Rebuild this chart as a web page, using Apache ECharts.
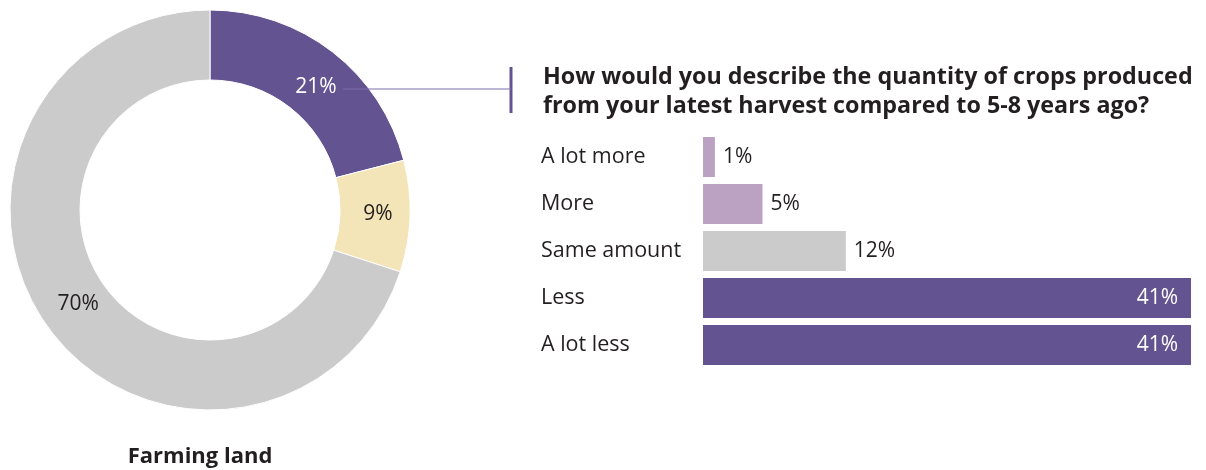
<!DOCTYPE html>
<html>
<head>
<meta charset="utf-8">
<script src="https://cdn.jsdelivr.net/npm/echarts@6/dist/echarts.min.js"></script>
<style>
  html, body { margin: 0; padding: 0; background: #fff; }
  #chart { width: 1206px; height: 470px; }
</style>
</head>
<body>
<div id="chart"></div>
<script>
// donut: farming land
const donutNames = ["Segment 1", "Segment 2", "Segment 3"];
const donutValues = [21, 9, 70];
const donutColors = ["#635391", "#F3E5B8", "#CBCBCB"];
const donutLabelColors = ["#ffffff", "#231f20", "#231f20"];
const donutLabelOffsets = [[3, 10], [0, -1], [4, -5]];

// bars: quantity of crops vs 5-8 years ago
const barCategories = ["A lot more", "More", "Same amount", "Less", "A lot less"];
const barValues = [1, 5, 12, 41, 41];
const barColors = ["#BBA2C2", "#BBA2C2", "#CBCBCB", "#635391", "#635391"];
const barLabelInside = [false, false, false, true, true];

const questionText = "How would you describe the quantity of crops produced\nfrom your latest harvest compared to 5-8 years ago?";
const donutCaption = "Farming land";

const textColor = "#231f20";
const baseFont = "Open Sans";

const chart = echarts.init(document.getElementById("chart"));

chart.setOption({
  animation: false,
  backgroundColor: "#ffffff",
  title: {
    text: questionText,
    left: 543,
    top: 63,
    padding: 0,
    textStyle: {
      fontFamily: "Open Sans",
      fontWeight: "bold",
      fontSize: 23.3,
      lineHeight: 29,
      color: textColor,
    },
  },
  grid: { left: 703, right: 15, top: 133.5, height: 235, containLabel: false },
  xAxis: {
    type: "value",
    min: 0,
    max: 41,
    show: false,
  },
  yAxis: {
    type: "category",
    inverse: true,
    data: barCategories,
    axisLine: { show: false },
    axisTick: { show: false },
    axisLabel: {
      align: "left",
      margin: 162,
      fontFamily: baseFont,
      fontSize: 21.5,
      color: textColor,
    },
  },
  graphic: [
    // leader from the 21% slice to the question
    { type: "line", z: 10, shape: { x1: 343, y1: 89, x2: 511, y2: 89 }, style: { stroke: "#7d6ea8", lineWidth: 1 } },
    { type: "rect", shape: { x: 509.5, y: 67, width: 3, height: 46 }, style: { fill: "#635391" } },
    {
      type: "text",
      x: 200,
      y: 457,
      style: {
        text: donutCaption,
        align: "center",
        verticalAlign: "middle",
        fontFamily: baseFont,
        fontWeight: "bold",
        fontSize: 22,
        fill: textColor,
      },
    },
  ],
  series: [
    {
      type: "pie",
      center: [210, 210],
      radius: [130, 200],
      startAngle: 90,
      clockwise: true,
      avoidLabelOverlap: false,
      itemStyle: { borderColor: "#ffffff", borderWidth: 1 },
      label: {
        position: "inside",
        formatter: "{c}%",
        fontFamily: baseFont,
        fontSize: 21,
      },
      labelLine: { show: false },
      emphasis: { disabled: true },
      data: donutValues.map((v, i) => ({
        name: donutNames[i],
        value: v,
        itemStyle: { color: donutColors[i] },
        label: { color: donutLabelColors[i], offset: donutLabelOffsets[i] },
      })),
    },
    {
      type: "bar",
      barWidth: 40,
      emphasis: { disabled: true },
      data: barValues.map((v, i) => ({
        value: v,
        itemStyle: { color: barColors[i] },
        label: barLabelInside[i]
          ? { position: "insideRight", distance: 13, color: "#ffffff" }
          : { position: "right", distance: 8, color: textColor },
      })),
      label: {
        show: true,
        formatter: "{c}%",
        fontFamily: baseFont,
        fontSize: 21,
      },
    },
  ],
});
</script>
</body>
</html>
